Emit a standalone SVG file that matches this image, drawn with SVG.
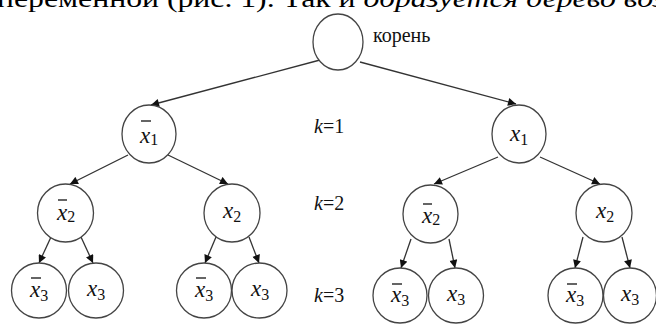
<svg xmlns="http://www.w3.org/2000/svg" width="656" height="327" viewBox="0 0 656 327" font-family="'Liberation Serif', 'DejaVu Serif', 'Noto Serif', serif">
<style>
  .n { fill: #fff; stroke: #444; stroke-width: 1.3; }
  .e { stroke: #333; stroke-width: 1.3; fill: none; marker-end: url(#ah); }
  .lb { font-size: 23px; fill: #111; }
  .lb .v { font-style: italic; }
  .lb .s { font-size: 16px; }
  .ob { stroke: #111; stroke-width: 1.3; }
  .k { font-size: 20px; fill: #111; }
  .top { font-size: 26px; fill: #000; }
</style>
<defs>
  <marker id="ah" viewBox="0 0 10 10" refX="10" refY="5" markerWidth="9" markerHeight="8" markerUnits="userSpaceOnUse" orient="auto">
    <path d="M0,0 L10,5 L0,10 z" fill="#111"/>
  </marker>
</defs>
<rect width="656" height="327" fill="#fff"/>
<text class="top" x="-3" y="7" textLength="668" lengthAdjust="spacingAndGlyphs">переменной (рис. 1). Так и <tspan font-style="italic">образуется дерево воз</tspan></text>

<g id="connectors">
  <line class="e" x1="320" y1="60" x2="151" y2="105"/>
  <line class="e" x1="360" y1="62" x2="516" y2="104"/>
  <line class="e" x1="128" y1="155" x2="70" y2="184"/>
  <line class="e" x1="168" y1="155" x2="228" y2="184"/>
  <line class="e" x1="498" y1="157" x2="434" y2="184"/>
  <line class="e" x1="540" y1="157" x2="600" y2="184"/>
  <line class="e" x1="51" y1="237" x2="39" y2="263"/>
  <line class="e" x1="81" y1="237" x2="93" y2="263"/>
  <line class="e" x1="216" y1="237" x2="205" y2="263"/>
  <line class="e" x1="249" y1="237" x2="259" y2="263"/>
  <line class="e" x1="411" y1="239" x2="401" y2="268"/>
  <line class="e" x1="449" y1="239" x2="455" y2="268"/>
  <line class="e" x1="583" y1="237" x2="575" y2="268"/>
  <line class="e" x1="622" y1="237" x2="630" y2="268"/>
</g>

<g id="root">
  <ellipse class="n" cx="338" cy="42" rx="25" ry="28"/>
  <text class="k" x="373" y="42" font-size="20">корень</text>
</g>

<g id="n1bar">
  <ellipse class="n" cx="149" cy="134" rx="27" ry="29"/>
  <line class="ob" x1="141" y1="121" x2="151" y2="121"/>
  <text class="lb" x="140" y="143"><tspan class="v">x</tspan><tspan class="s" dy="2">1</tspan></text>
</g>
<g id="n1">
  <ellipse class="n" cx="519" cy="134" rx="27" ry="29"/>
  <text class="lb" x="510" y="141"><tspan class="v">x</tspan><tspan class="s" dy="4">1</tspan></text>
</g>

<g id="n2bar-a">
  <ellipse class="n" cx="65.5" cy="213" rx="28" ry="29"/>
  <line class="ob" x1="58" y1="200" x2="67" y2="200"/>
  <text class="lb" x="57" y="220"><tspan class="v">x</tspan><tspan class="s" dy="2">2</tspan></text>
</g>
<g id="n2-a">
  <ellipse class="n" cx="232" cy="213" rx="28" ry="29"/>
  <text class="lb" x="223" y="218"><tspan class="v">x</tspan><tspan class="s" dy="4">2</tspan></text>
</g>
<g id="n2bar-b">
  <ellipse class="n" cx="430.5" cy="214" rx="27.5" ry="29"/>
  <line class="ob" x1="423" y1="204" x2="432" y2="204"/>
  <text class="lb" x="422" y="223"><tspan class="v">x</tspan><tspan class="s" dy="2">2</tspan></text>
</g>
<g id="n2-b">
  <ellipse class="n" cx="604" cy="213" rx="28" ry="29"/>
  <text class="lb" x="596" y="218"><tspan class="v">x</tspan><tspan class="s" dy="4">2</tspan></text>
</g>

<g id="n3bar-a">
  <ellipse class="n" cx="39" cy="290.5" rx="27.5" ry="27.5"/>
  <line class="ob" x1="31" y1="278" x2="41" y2="278"/>
  <text class="lb" x="30" y="297"><tspan class="v">x</tspan><tspan class="s" dy="4">3</tspan></text>
</g>
<g id="n3-a">
  <ellipse class="n" cx="96" cy="290.5" rx="27.5" ry="27.5"/>
  <text class="lb" x="87" y="296"><tspan class="v">x</tspan><tspan class="s" dy="4">3</tspan></text>
</g>
<g id="n3bar-b">
  <ellipse class="n" cx="204" cy="290.5" rx="27.5" ry="27.5"/>
  <line class="ob" x1="196" y1="278" x2="206" y2="278"/>
  <text class="lb" x="195" y="297"><tspan class="v">x</tspan><tspan class="s" dy="4">3</tspan></text>
</g>
<g id="n3-b">
  <ellipse class="n" cx="259.5" cy="290.5" rx="27.5" ry="27.5"/>
  <text class="lb" x="251" y="296"><tspan class="v">x</tspan><tspan class="s" dy="4">3</tspan></text>
</g>
<g id="n3bar-c">
  <ellipse class="n" cx="400" cy="295.5" rx="27" ry="27.5"/>
  <line class="ob" x1="392" y1="284" x2="402" y2="284"/>
  <text class="lb" x="391" y="302"><tspan class="v">x</tspan><tspan class="s" dy="4">3</tspan></text>
</g>
<g id="n3-c">
  <ellipse class="n" cx="456" cy="295.5" rx="27.5" ry="27.5"/>
  <text class="lb" x="447" y="301"><tspan class="v">x</tspan><tspan class="s" dy="4">3</tspan></text>
</g>
<g id="n3bar-d">
  <ellipse class="n" cx="575.5" cy="295.5" rx="27.5" ry="27.5"/>
  <line class="ob" x1="567" y1="284" x2="577" y2="284"/>
  <text class="lb" x="566" y="302"><tspan class="v">x</tspan><tspan class="s" dy="4">3</tspan></text>
</g>
<g id="n3-d">
  <ellipse class="n" cx="630" cy="295.5" rx="26.5" ry="27.5"/>
  <text class="lb" x="621" y="301"><tspan class="v">x</tspan><tspan class="s" dy="4">3</tspan></text>
</g>

<g id="levels">
  <text class="k" x="314" y="133"><tspan font-style="italic">k</tspan>=1</text>
  <text class="k" x="314" y="210"><tspan font-style="italic">k</tspan>=2</text>
  <text class="k" x="314" y="302"><tspan font-style="italic">k</tspan>=3</text>
</g>
</svg>
